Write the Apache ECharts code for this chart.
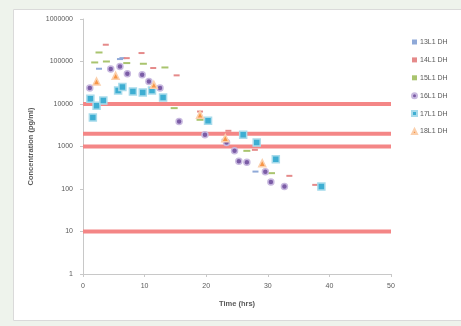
<!DOCTYPE html>
<html>
<head>
<meta charset="utf-8">
<script src="https://cdn.jsdelivr.net/npm/echarts@6/dist/echarts.min.js"></script>
<style>
  html, body { margin: 0; padding: 0; background: #eef3ec; }
  #chart { width: 461px; height: 326px; }
</style>
</head>
<body>
<div id="chart"></div>
<script>
// Sample concentrations over time (hours, pg/ml), one list of [time, conc] per subject
const names = ['13L1 DH', '14L1 DH', '15L1 DH', '16L1 DH', '17L1 DH', '18L1 DH'];

const s13 = [[2.6, 67600], [6.0, 114000], [6.4, 120000], [23.0, 1440], [28.0, 257]];
const s14 = [[3.7, 248000], [7.1, 120000], [9.5, 158000], [11.4, 70200], [15.2, 47200],
             [19.0, 6650], [23.6, 2340], [27.9, 834], [33.5, 204], [37.7, 125]];
const s15 = [[1.9, 95000], [2.6, 163000], [3.8, 100000], [7.1, 91800], [9.8, 88500],
             [13.3, 72400], [14.8, 8000], [19.0, 4250], [26.6, 790], [30.6, 236]];
const s16 = [[1.1, 23700], [4.5, 66400], [6.0, 76400], [7.2, 51400], [9.6, 48700],
             [10.7, 33900], [12.5, 23700], [15.6, 3870], [19.8, 1880], [23.3, 1240],
             [24.6, 790], [25.3, 452], [26.6, 428], [29.6, 253], [30.5, 147], [32.7, 114]];
const s17 = [[1.2, 13300], [1.6, 4800], [2.2, 9080], [3.3, 12100], [5.7, 20800],
             [6.4, 25000], [8.1, 19700], [9.7, 18700], [11.2, 20800], [13.0, 14200],
             [20.3, 4020], [26.0, 1880], [28.2, 1240], [31.3, 500], [38.7, 114]];
const s18 = [[2.2, 33900], [5.3, 46100], [11.5, 28300], [19.0, 5570], [23.1, 1570], [29.1, 406]];

// Reference concentration levels drawn as horizontal bands
const thresholds = [10000, 2000, 1000, 10];

const xTicks = [0, 10, 20, 30, 40, 50];
const yTicks = [1, 10, 100, 1000, 10000, 100000, 1000000];

const chart = echarts.init(document.getElementById('chart'), null, { renderer: 'canvas' });

const txt = '#595959';
const fontFam = '"Liberation Sans", Arial, sans-serif';

const styles = [
  { color: '#8fa9d8', symbol: 'rect', size: [6, 2], border: null },
  { color: '#e58a8a', symbol: 'rect', size: [6, 2], border: null },
  { color: '#a9c46e', symbol: 'rect', size: [7, 2], border: null },
  { color: '#7b5ca6', symbol: 'circle', size: 6, border: '#c8b9df' },
  { color: '#3eaed2', symbol: 'rect', size: 7, border: '#a8dbeb' },
  { color: '#f79646', symbol: 'triangle', size: 7, border: '#fbd0ad' }
];
const seriesData = [s13, s14, s15, s16, s17, s18];

const scatter = seriesData.map((d, i) => ({
  name: names[i],
  type: 'scatter',
  data: d,
  symbol: styles[i].symbol,
  symbolSize: styles[i].size,
  z: 5,
  itemStyle: {
    color: styles[i].color,
    borderColor: styles[i].border || styles[i].color,
    borderWidth: styles[i].border ? 1.5 : 0,
    opacity: 1
  }
}));

const bands = thresholds.map(v => ({
  type: 'line',
  data: [[0, v], [50, v]],
  symbol: 'none',
  silent: true,
  z: 2,
  lineStyle: { color: '#f48686', width: 4 },
  legendHoverLink: false
}));

// Legend icons per series
const legendIcons = ['rect', 'rect', 'rect', 'circle', 'rect', 'triangle'];

chart.setOption({
  animation: false,
  backgroundColor: 'transparent',
  graphic: [{
    type: 'rect',
    z: -10,
    shape: { x: 13.5, y: 9.5, width: 460, height: 311 },
    style: { fill: '#ffffff', stroke: '#dadada', lineWidth: 1 }
  }],
  grid: { left: 83, right: 70, top: 19, bottom: 52 },
  legend: {
    data: names.map((n, i) => ({ name: n, icon: legendIcons[i] })),
    orient: 'vertical',
    left: 411,
    top: 38.5,
    padding: 0,
    itemWidth: 5,
    itemHeight: 5,
    itemGap: 10.9,
    textStyle: { color: txt, fontSize: 7, fontFamily: fontFam, padding: [0, 0, 0, -2] }
  },
  xAxis: {
    type: 'value',
    min: 0, max: 50, interval: 10,
    name: 'Time (hrs)',
    nameLocation: 'middle',
    nameGap: 26,
    nameTextStyle: { color: txt, fontSize: 7.5, fontWeight: 'bold', fontFamily: fontFam },
    axisLine: { show: true, lineStyle: { color: '#c8c8c8' } },
    axisTick: { show: true, length: 3, lineStyle: { color: '#c8c8c8' } },
    axisLabel: { color: txt, fontSize: 7, fontFamily: fontFam, margin: 9,
                 formatter: v => xTicks.includes(v) ? String(v) : '' },
    splitLine: { show: false }
  },
  yAxis: {
    type: 'log',
    logBase: 10,
    min: 1, max: 1000000,
    name: 'Concentration (pg/ml)',
    nameLocation: 'middle',
    nameGap: 46,
    nameTextStyle: { color: txt, fontSize: 7.5, fontWeight: 'bold', fontFamily: fontFam },
    axisLine: { show: true, lineStyle: { color: '#c8c8c8' } },
    axisTick: { show: true, length: 3, lineStyle: { color: '#c8c8c8' } },
    axisLabel: { color: txt, fontSize: 7, fontFamily: fontFam, margin: 10,
                 formatter: v => yTicks.includes(Math.round(v)) ? String(Math.round(v)) : '' },
    splitLine: { show: false }
  },
  series: bands.concat(scatter)
});
</script>
</body>
</html>
